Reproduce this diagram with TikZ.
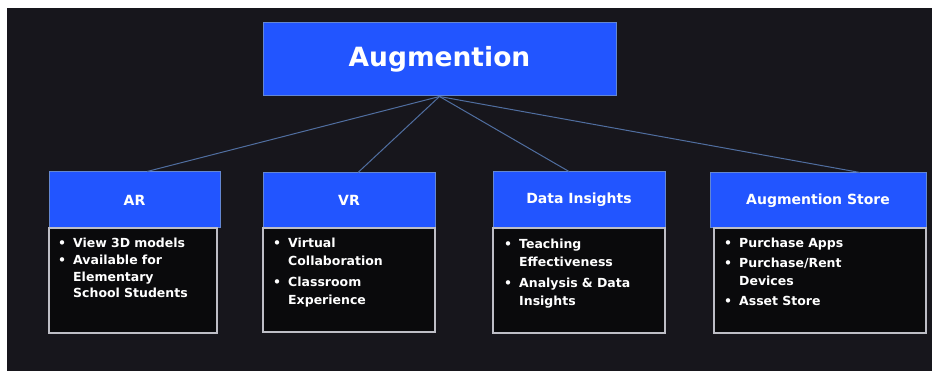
\documentclass[tikz,border=0pt]{standalone}
\usepackage{fontspec}
\setmainfont{DejaVu Sans}
\definecolor{bg}{RGB}{23,22,28}
\definecolor{hdrblue}{RGB}{34,85,255}
\definecolor{hdrline}{RGB}{100,135,210}
\definecolor{bodyfill}{RGB}{10,10,12}
\definecolor{bodyline}{RGB}{190,190,198}
\definecolor{connblue}{RGB}{80,110,160}
\newcommand\bitem[1]{\noindent\makebox[15pt][l]{•}\begin{tabular}[t]{@{}l@{}}#1\end{tabular}\par}
\tikzset{
  hdr/.style={draw=hdrline, line width=1pt, fill=hdrblue, text=white,
    font=\bfseries\fontsize{14}{16}\selectfont, inner sep=0pt},
  topbox/.style={draw=hdrline, line width=1pt, fill=hdrblue, text=white,
    font=\bfseries\fontsize{26.5}{30}\selectfont, inner sep=0pt,
    minimum width=353pt, minimum height=73pt},
  bodybox/.style={draw=bodyline, line width=1.5pt, fill=bodyfill, inner sep=0pt},
  btext/.style={text=white, font=\bfseries\fontsize{12.5}{18}\selectfont,
    inner sep=0pt, anchor=north west, text width=195pt,
    execute at begin node={\setlength\parskip{1.5pt}\setlength\parindent{0pt}}},
  btight/.style={font=\bfseries\fontsize{12.5}{16.5}\selectfont,
    execute at begin node={\setlength\parskip{0.5pt}\setlength\parindent{0pt}}},
  conn/.style={draw=connblue, line width=1pt}
}
\begin{document}
\begin{tikzpicture}[x=1pt,y=-1pt]
\useasboundingbox (0,0) rectangle (932,371);
\fill[white] (0,0) rectangle (932,371);
\fill[bg] (7,8) rectangle (932,371);

\node[topbox] (top) at (439.5,59.5) {Augmention};

% headers
\node[hdr, minimum width=171pt, minimum height=56pt] (ar) at (134.5,200) {AR};
\node[hdr, minimum width=172pt, minimum height=55pt] (vr) at (349,200.5) {VR};
\node[hdr, minimum width=172pt, minimum height=56pt] (di) at (579,200) {Data Insights};
\node[hdr, minimum width=216pt, minimum height=55pt] (st) at (818,200.5) {Augmention Store};

% bodies
\node[bodybox, minimum width=168pt, minimum height=105pt] (arb) at (133,280.5) {};
\node[bodybox, minimum width=172pt, minimum height=104pt] (vrb) at (349,280) {};
\node[bodybox, minimum width=172pt, minimum height=105pt] (dib) at (579,280.5) {};
\node[bodybox, minimum width=212pt, minimum height=105pt] (stb) at (820,280.5) {};

% body texts
\node[btext, btight] (art) at (58,236) {\bitem{View 3D models}\bitem{Available for\\Elementary\\School Students}};
\node[btext] (vrt) at (273,235) {\bitem{Virtual\\Collaboration}\bitem{Classroom\\Experience}};
\node[btext] (dit) at (504,236) {\bitem{Teaching\\Effectiveness}\bitem{Analysis \& Data\\Insights}};
\node[btext] (stt) at (724,235) {\bitem{Purchase Apps}\bitem{Purchase/Rent\\Devices}\bitem{Asset Store}};

% connectors
\draw[conn] (top.south) -- ([xshift=12.5pt]ar.north);
\draw[conn] (top.south) -- ([xshift=9pt]vr.north);
\draw[conn] (top.south) -- ([xshift=-10pt]di.north);
\draw[conn] (top.south) -- ([xshift=42pt]st.north);
\end{tikzpicture}
\end{document}
